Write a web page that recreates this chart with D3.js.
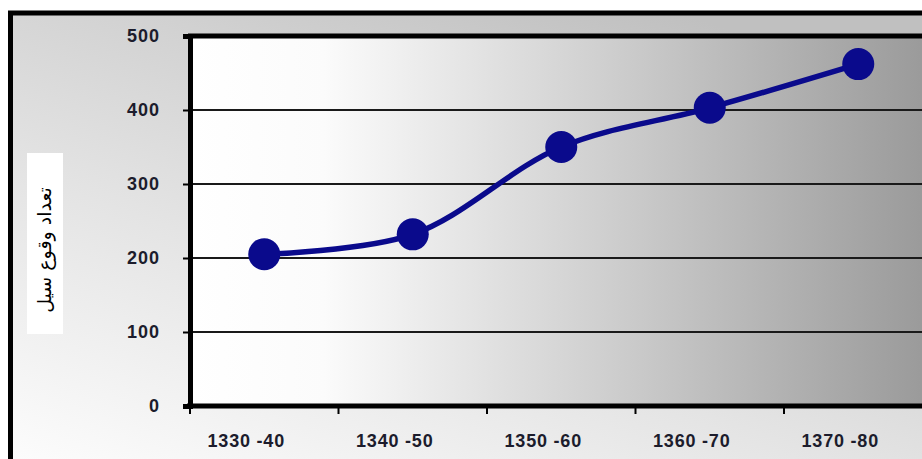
<!DOCTYPE html>
<html>
<head>
<meta charset="utf-8">
<script src="https://cdn.jsdelivr.net/npm/d3@7"></script>
<style>
  html, body { margin: 0; padding: 0; background: #fff; }
  svg { display: block; }
</style>
</head>
<body>
<div id="chart"></div>
<script>
// chart data
const periods = ["1330 -40", "1340 -50", "1350 -60", "1360 -70", "1370 -80"];
const floodCounts = [205, 232, 350, 403, 462];
const yTicks = [0, 100, 200, 300, 400, 500];
const yTitle = "تعداد وقوع سیل";

const width = 922,
      height = 459;

// plot area (runs off the right edge like the original crop)
const plot = { left: 190, top: 36, bottom: 406, bandW: 148.5 };

const svg = d3.select("#chart").append("svg")
    .attr("width", width)
    .attr("height", height);

const defs = svg.append("defs");

// outer background: light at bottom-left, greyer to the top-right
const outerGrad = defs.append("linearGradient")
    .attr("id", "outerGrad")
    .attr("x1", "0").attr("y1", "1")
    .attr("x2", "0.7").attr("y2", "0");
outerGrad.append("stop").attr("offset", "0").attr("stop-color", "#ffffff");
outerGrad.append("stop").attr("offset", "0.45").attr("stop-color", "#e4e4e4");
outerGrad.append("stop").attr("offset", "1").attr("stop-color", "#c0c0c0");

// plot background: white on the left fading to grey on the right
const plotGrad = defs.append("linearGradient")
    .attr("id", "plotGrad")
    .attr("x1", "0").attr("y1", "0")
    .attr("x2", "1").attr("y2", "0");
plotGrad.append("stop").attr("offset", "0").attr("stop-color", "#ffffff");
plotGrad.append("stop").attr("offset", "0.18").attr("stop-color", "#fbfbfb");
plotGrad.append("stop").attr("offset", "0.55").attr("stop-color", "#d0d0d0");
plotGrad.append("stop").attr("offset", "1").attr("stop-color", "#999999");

// outer frame
svg.append("rect")
    .attr("x", 10.5)
    .attr("y", 13)
    .attr("width", 960)
    .attr("height", 480)
    .attr("fill", "url(#outerGrad)")
    .attr("stroke", "#000")
    .attr("stroke-width", 5);

// scales
const x = d3.scaleBand()
    .domain(periods)
    .range([plot.left, plot.left + periods.length * plot.bandW])
    .padding(0);

const y = d3.scaleLinear()
    .domain([0, 500])
    .range([plot.bottom, plot.top]);

const plotRight = x.range()[1];

const labelFont = "'Liberation Sans', Arial, sans-serif";

// plot background
svg.append("rect")
    .attr("x", plot.left)
    .attr("y", plot.top)
    .attr("width", plotRight - plot.left)
    .attr("height", plot.bottom - plot.top)
    .attr("fill", "url(#plotGrad)");

// horizontal gridlines
svg.append("g").selectAll("line")
    .data(yTicks.filter(d => d > 0 && d < 500))
    .join("line")
    .attr("x1", plot.left)
    .attr("x2", plotRight)
    .attr("y1", d => y(d))
    .attr("y2", d => y(d))
    .attr("stroke", "#1a1a1a")
    .attr("stroke-width", 2);

// top border of plot (the 500 line is heavy)
svg.append("line")
    .attr("x1", plot.left - 2)
    .attr("x2", plotRight)
    .attr("y1", y(500))
    .attr("y2", y(500))
    .attr("stroke", "#000")
    .attr("stroke-width", 5);

// y axis
const yAxis = svg.append("g")
    .attr("transform", `translate(${plot.left},0)`)
    .call(d3.axisLeft(y).tickValues(yTicks).tickSize(7).tickPadding(23));
yAxis.select(".domain")
    .attr("stroke", "#000")
    .attr("stroke-width", 5);
yAxis.selectAll(".tick line").attr("stroke", "#000").attr("stroke-width", 2);
yAxis.selectAll(".tick text")
    .attr("fill", "#1c1c2c")
    .attr("font-family", labelFont)
    .attr("font-weight", "bold")
    .attr("font-size", 18)
    .attr("letter-spacing", 1);

// x axis with ticks on category boundaries
const xAxis = svg.append("g")
    .attr("transform", `translate(0,${plot.bottom})`);
xAxis.append("line")
    .attr("x1", plot.left - 3)
    .attr("x2", plotRight)
    .attr("y1", 0)
    .attr("y2", 0)
    .attr("stroke", "#000")
    .attr("stroke-width", 5);
xAxis.selectAll("line.tick")
    .data(periods)
    .join("line")
    .attr("class", "tick")
    .attr("x1", d => x(d))
    .attr("x2", d => x(d))
    .attr("y1", 0)
    .attr("y2", 8)
    .attr("stroke", "#000")
    .attr("stroke-width", 2);
xAxis.selectAll("text")
    .data(periods)
    .join("text")
    .attr("x", d => x(d) + x.bandwidth() / 2 - 18)
    .attr("y", 41)
    .attr("text-anchor", "middle")
    .attr("fill", "#1c1c2c")
    .attr("font-family", labelFont)
    .attr("font-weight", "bold")
    .attr("font-size", 18)
    .attr("letter-spacing", 0.8)
    .text(d => d);

// y title in a white box
svg.append("rect")
    .attr("x", 27)
    .attr("y", 153)
    .attr("width", 36)
    .attr("height", 181)
    .attr("fill", "#ffffff");
svg.append("text")
    .attr("transform", "translate(51,250) rotate(-90)")
    .attr("text-anchor", "middle")
    .attr("fill", "#000")
    .attr("font-family", "'DejaVu Sans', 'Noto Sans', sans-serif")
    .attr("font-size", 19)
    .text(yTitle);

// smoothed line
const points = periods.map((p, i) => [x(p) + x.bandwidth() / 2, y(floodCounts[i])]);
const line = d3.line().curve(d3.curveCatmullRom.alpha(0.5));

svg.append("path")
    .attr("d", line(points))
    .attr("fill", "none")
    .attr("stroke", "#0a0a8c")
    .attr("stroke-width", 5.5)
    .attr("stroke-linejoin", "round");

// markers
svg.append("g").selectAll("circle")
    .data(points)
    .join("circle")
    .attr("cx", d => d[0])
    .attr("cy", d => d[1])
    .attr("r", 16)
    .attr("fill", "#0a0a8c");
</script>
</body>
</html>
